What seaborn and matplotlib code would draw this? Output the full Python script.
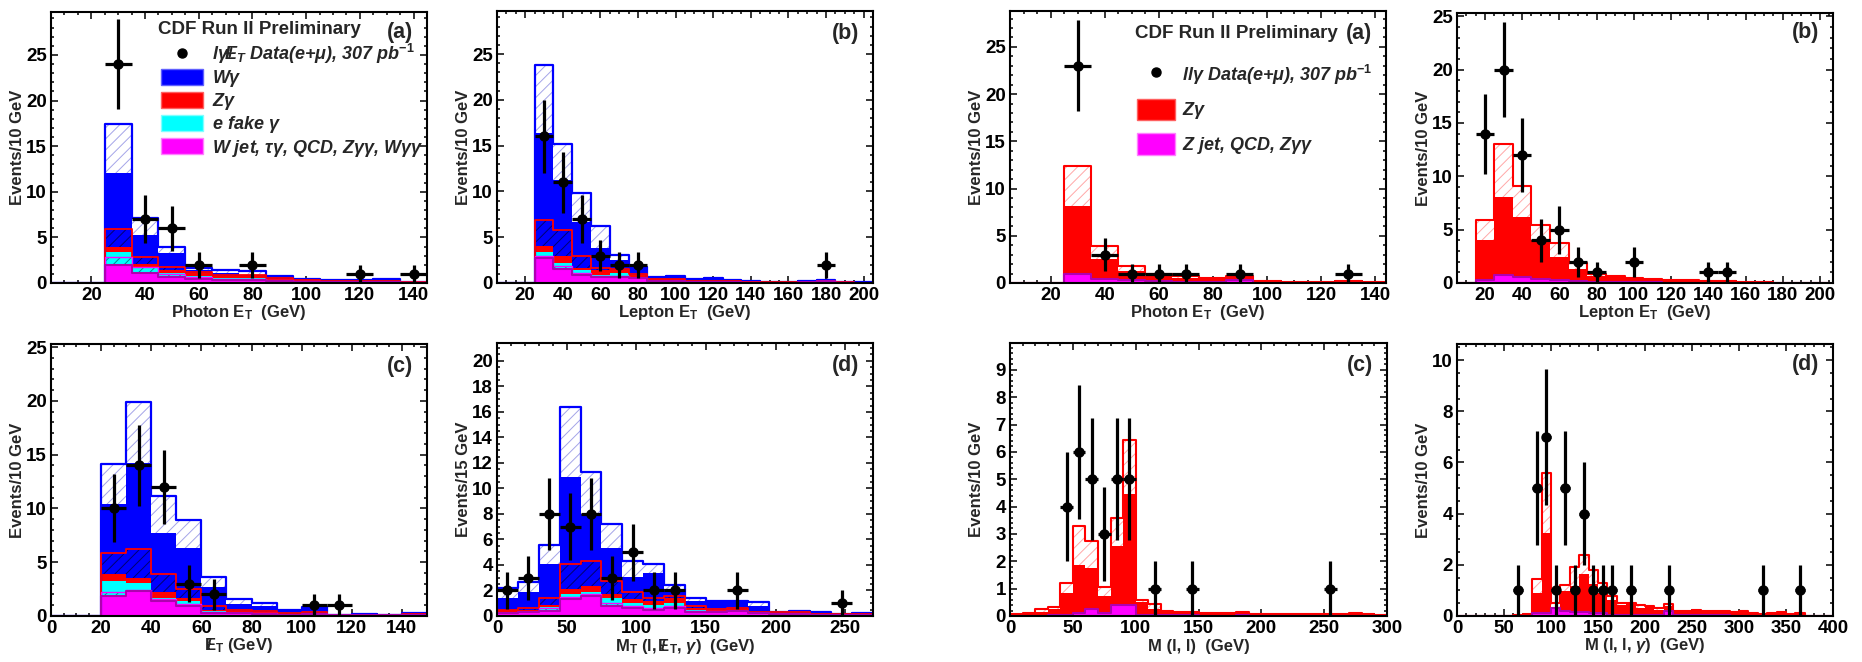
import numpy as np
import matplotlib
matplotlib.use("Agg")
import matplotlib.pyplot as plt
from matplotlib.ticker import MultipleLocator
from matplotlib.lines import Line2D
from matplotlib.patches import Patch
import seaborn as sns

# ---------------------------------------------------------------------------
# W-gamma selection (l + gamma + missing ET): stacked expectation per bin
# components: other = W jet, tau-gamma, QCD, Z-gamma-gamma, W-gamma-gamma
# *_hi arrays are the upper edges of the uncertainty bands (stacked levels)
# ---------------------------------------------------------------------------

# (a) photon ET
a_edges = list(range(5, 146, 10))
a_other = [0, 0, 2.0, 1.05, 0.7, 0.45, 0.35, 0.35, 0.25, 0.15, 0.08, 0.08, 0.1, 0.05]
a_efake = [0, 0, 1.45, 0.75, 0.4, 0.35, 0.25, 0.15, 0.1, 0.05, 0.04, 0.04, 0.05, 0.03]
a_zg = [0, 0, 0.45, 0.25, 0.3, 0.3, 0.2, 0.25, 0.1, 0.05, 0.06, 0.06, 0.07, 0.02]
a_wg = [0, 0, 8.2, 3.25, 1.9, 0.35, 0.35, 0.15, 0.25, 0.1, 0.07, 0.07, 0.13, 0.02]
a_other_hi = [0, 0, 2.9, 1.7, 1.0, 0.65, 0.45, 0.45, 0.3, 0.18, 0.1, 0.1, 0.12, 0.06]
a_zg_hi = [0, 0, 5.9, 2.85, 1.8, 1.2, 0.9, 0.85, 0.5, 0.28, 0.2, 0.2, 0.25, 0.12]
a_tot_hi = [0, 0, 17.4, 7.1, 3.95, 1.65, 1.45, 1.3, 0.8, 0.45, 0.3, 0.3, 0.45, 0.15]
a_data_x = [30, 40, 50, 60, 80, 120, 140]
a_data_n = [24, 7, 6, 2, 2, 1, 1]

# (b) lepton ET
b_edges = list(range(5, 206, 10))
b_other = [0, 0, 2.7, 1.5, 0.9, 0.65, 0.7, 0.55, 0.2, 0.2, 0.1, 0.1, 0.08, 0.05, 0.04, 0.04, 0.1, 0.2, 0.05, 0.02]
b_efake = [0, 0, 0.7, 0.7, 0.5, 0.25, 0.4, 0.15, 0.1, 0.1, 0.05, 0.05, 0.02, 0.02, 0.01, 0.01, 0.02, 0.02, 0.01, 0.01]
b_zg = [0, 0, 0.6, 0.8, 0.25, 0.55, 0.35, 0.2, 0.1, 0.1, 0.05, 0.05, 0.05, 0.03, 0.02, 0.01, 0.03, 0.03, 0.02, 0.01]
b_wg = [0, 0, 12.4, 8.3, 5.05, 2.35, 1.1, 0.7, 0.2, 0.35, 0.2, 0.3, 0.1, 0.08, 0.05, 0.02, 0.03, 0.03, 0.02, 0.01]
b_other_hi = [0, 0, 3.0, 1.9, 1.1, 0.75, 0.8, 0.6, 0.25, 0.25, 0.12, 0.12, 0.09, 0.06, 0.05, 0.05, 0.11, 0.21, 0.06, 0.03]
b_zg_hi = [0, 0, 6.85, 5.75, 2.9, 1.65, 1.55, 1.0, 0.45, 0.45, 0.22, 0.22, 0.17, 0.12, 0.08, 0.07, 0.16, 0.27, 0.09, 0.05]
b_tot_hi = [0, 0, 23.8, 15.2, 9.8, 6.2, 3.1, 1.8, 0.7, 0.8, 0.45, 0.55, 0.3, 0.2, 0.14, 0.1, 0.2, 0.3, 0.12, 0.06]
b_data_x = [30, 40, 50, 60, 70, 80, 180]
b_data_n = [16, 11, 7, 3, 2, 2, 2]

# (c) missing ET
e_edges = list(range(0, 151, 10))
e_other = [0, 0, 1.9, 2.3, 1.35, 0.95, 0.3, 0.25, 0.2, 0.1, 0.2, 0.05, 0.05, 0.05, 0.1]
e_efake = [0, 0, 1.4, 0.75, 0.35, 0.4, 0.15, 0.1, 0.1, 0.05, 0.05, 0.01, 0.02, 0.01, 0.02]
e_zg = [0, 0, 0.65, 0.5, 0.55, 0.35, 0.15, 0.15, 0.1, 0.05, 0.05, 0.02, 0.03, 0.02, 0.03]
e_wg = [0, 0, 6.5, 10.65, 5.45, 4.65, 2.1, 0.6, 0.55, 0.3, 0.45, 0.02, 0.05, 0.02, 0.1]
e_other_hi = [0, 0, 2.2, 2.4, 1.6, 1.1, 0.4, 0.3, 0.25, 0.12, 0.22, 0.06, 0.06, 0.06, 0.11]
e_zg_hi = [0, 0, 5.9, 6.2, 3.95, 2.5, 0.9, 0.6, 0.45, 0.25, 0.35, 0.09, 0.12, 0.09, 0.17]
e_tot_hi = [0, 0, 14.1, 19.95, 11.2, 8.9, 3.65, 1.55, 1.25, 0.6, 0.8, 0.12, 0.17, 0.12, 0.28]
e_data_x = [25, 35, 45, 55, 65, 105, 115]
e_data_n = [10, 14, 12, 3, 2, 1, 1]

# (d) transverse mass MT(l, MET, gamma)
f_edges = list(range(0, 271, 15))
f_other = [0.2, 0.3, 0.4, 1.3, 1.55, 0.8, 0.65, 0.5, 0.65, 0.35, 0.35, 0.4, 0.2, 0.15, 0.15, 0.1, 0.05, 0.1]
f_efake = [0.1, 0.05, 0.3, 0.4, 0.3, 0.65, 0.4, 0.4, 0.4, 0.15, 0.07, 0.05, 0.05, 0.03, 0.03, 0.02, 0.02, 0.02]
f_zg = [0.15, 0.1, 0.2, 0.45, 0.5, 0.25, 0.25, 0.3, 0.4, 0.15, 0.08, 0.1, 0.05, 0.07, 0.07, 0.03, 0.03, 0.03]
f_wg = [1.0, 1.4, 3.15, 8.75, 5.65, 3.6, 1.75, 2.2, 0.65, 0.55, 0.6, 0.55, 0.5, 0.05, 0.1, 0.1, 0.05, 0.05]
f_other_hi = [0.25, 0.35, 0.6, 1.5, 1.7, 1.0, 0.8, 0.6, 0.75, 0.4, 0.38, 0.42, 0.22, 0.17, 0.17, 0.11, 0.06, 0.11]
f_zg_hi = [0.5, 0.6, 1.45, 4.05, 4.3, 2.75, 1.85, 1.45, 1.55, 0.75, 0.55, 0.6, 0.35, 0.28, 0.3, 0.18, 0.12, 0.17]
f_tot_hi = [2.2, 2.7, 5.6, 16.35, 11.25, 7.2, 4.3, 4.05, 2.4, 1.45, 1.2, 1.15, 1.1, 0.35, 0.4, 0.3, 0.18, 0.25]
f_data_x = [7.5, 22.5, 37.5, 52.5, 67.5, 82.5, 97.5, 112.5, 127.5, 172.5, 247.5]
f_data_n = [2, 3, 8, 7, 8, 3, 5, 2, 2, 2, 1]

# ---------------------------------------------------------------------------
# Z-gamma selection (l + l + gamma); other = Z jet, QCD, Z-gamma-gamma
# ---------------------------------------------------------------------------

# (a) photon ET
c_edges = list(range(5, 146, 10))
c_other = [0, 0, 0.9, 0.4, 0.3, 0.2, 0.15, 0.1, 0.3, 0.05, 0.03, 0.03, 0.05, 0.02]
c_zg = [0, 0, 7.3, 2.15, 0.95, 0.5, 0.35, 0.32, 0.35, 0.1, 0.07, 0.07, 0.1, 0.04]
c_tot_hi = [0, 0, 12.4, 3.9, 1.85, 0.9, 0.7, 0.5, 0.7, 0.18, 0.12, 0.12, 0.18, 0.08]
c_data_x = [30, 40, 50, 60, 70, 90, 130]
c_data_n = [23, 3, 1, 1, 1, 1, 1]

# (b) lepton ET
d_edges = list(range(5, 206, 10))
d_other = [0, 0.3, 0.75, 0.55, 0.35, 0.25, 0.15, 0.1, 0.08, 0.06, 0.05, 0.04, 0.03, 0.03, 0.02, 0.01, 0.01, 0, 0, 0]
d_zg = [0, 3.7, 7.3, 5.6, 3.7, 2.2, 1.15, 0.6, 0.47, 0.39, 0.3, 0.26, 0.22, 0.17, 0.13, 0.04, 0.03, 0.03, 0.02, 0.02]
d_tot_hi = [0, 5.95, 13.0, 9.1, 5.4, 3.75, 1.9, 0.8, 0.65, 0.5, 0.38, 0.32, 0.27, 0.22, 0.17, 0.07, 0.05, 0.04, 0.03, 0.03]
d_data_x = [20, 30, 40, 50, 60, 70, 80, 100, 140, 150]
d_data_n = [14, 20, 12, 4, 5, 2, 1, 2, 1, 1]

# (c) dilepton mass
g_edges = list(range(0, 301, 10))
g_other = [0, 0, 0, 0.02, 0.05, 0.12, 0.25, 0.12, 0.42, 0.42, 0.05, 0.03, 0.02, 0.02, 0.02,
           0.01, 0.01, 0.01, 0.02, 0.01, 0, 0, 0, 0, 0, 0, 0, 0, 0, 0]
g_zg = [0.05, 0.1, 0.15, 0.23, 0.78, 1.73, 1.52, 0.61, 2.14, 4.03, 0.47, 0.22, 0.16, 0.1, 0.1,
        0.09, 0.09, 0.07, 0.1, 0.04, 0.05, 0.05, 0.05, 0.05, 0.05, 0.05, 0.05, 0.08, 0.05, 0.03]
g_tot_hi = [0.07, 0.12, 0.25, 0.33, 1.22, 3.3, 2.75, 1.06, 3.6, 6.44, 0.6, 0.45, 0.18, 0.14, 0.14,
            0.12, 0.12, 0.1, 0.14, 0.06, 0.06, 0.06, 0.06, 0.06, 0.06, 0.06, 0.06, 0.1, 0.06, 0.04]
g_data_x = [45, 55, 65, 75, 85, 95, 115, 145, 255]
g_data_n = [4, 6, 5, 3, 5, 5, 1, 1, 1]

# (d) l-l-gamma mass
h_edges = list(range(0, 401, 10))
h_other = [0, 0, 0, 0, 0, 0, 0, 0, 0.1, 0.1, 0.3, 0.2, 0.15, 0.15, 0.1, 0.1, 0.05, 0.05, 0.05, 0.03,
           0.03, 0.03, 0.2, 0.03, 0.02, 0.02, 0.02, 0.02, 0.02, 0.01, 0.01, 0.01, 0, 0.01, 0.01, 0, 0.01, 0, 0, 0]
h_zg = [0, 0, 0, 0, 0, 0, 0.02, 0.05, 0.8, 3.16, 0.05, 0.78, 1.02, 1.51, 1.14, 0.8, 0.56, 0.38, 0.4, 0.3,
        0.32, 0.22, 0.2, 0.12, 0.13, 0.18, 0.13, 0.13, 0.13, 0.11, 0.14, 0.09, 0.05, 0.09, 0.11, 0.05, 0.09, 0, 0, 0]
h_tot_hi = [0, 0, 0, 0, 0, 0, 0.03, 0.06, 1.43, 5.6, 0.52, 1.21, 1.92, 2.39, 1.79, 1.3, 0.78, 0.52, 0.52, 0.43,
            0.4, 0.3, 0.48, 0.2, 0.2, 0.22, 0.18, 0.18, 0.18, 0.15, 0.18, 0.12, 0.07, 0.12, 0.14, 0.07, 0.12, 0, 0, 0]
h_data_x = [65, 85, 95, 105, 115, 125, 135, 145, 155, 165, 185, 225, 325, 365]
h_data_n = [1, 5, 7, 1, 5, 1, 4, 1, 1, 1, 1, 1, 1, 1]

# ---------------------------------------------------------------------------
# style
# ---------------------------------------------------------------------------
sns.set_theme(style="ticks")
plt.rcParams.update({
    "font.family": ["Liberation Sans", "DejaVu Sans"],
    "font.weight": "bold",
    "axes.labelweight": "bold",
    "mathtext.fontset": "custom",
    "mathtext.rm": "Liberation Sans:bold",
    "mathtext.it": "Liberation Sans:italic:bold",
    "mathtext.bf": "Liberation Sans:bold",
    "mathtext.sf": "Liberation Sans:bold",
    "hatch.linewidth": 0.7,
    "axes.edgecolor": "black",
    "axes.linewidth": 1.5,
    "xtick.color": "black",
    "ytick.color": "black",
})

BLUE = "#0000ff"
RED = "#ff0000"
CYAN = "#00ffff"
MAGENTA = "#ff00ff"
BLUE_HATCH = "#a4a4e8"
RED_HATCH = "#ffa8a8"
NAVY_HATCH = "#000070"
TEAL_HATCH = "#008a8a"

FS_TICK = 13.5
FS_LABEL = 12
FS_LEG = 13
FS_TITLE = 13.5


def _centers(edges):
    edges = np.asarray(edges, float)
    return 0.5 * (edges[:-1] + edges[1:])


def solid(ax, edges, heights, color):
    sns.histplot(x=_centers(edges), weights=np.asarray(heights, float), bins=list(edges),
                 element="step", fill=True, color=color, alpha=1, edgecolor=color,
                 linewidth=0, stat="count", ax=ax)


def band(ax, edges, heights, face, hatch_color):
    sns.histplot(x=_centers(edges), weights=np.asarray(heights, float), bins=list(edges),
                 element="step", fill=True, color=face, alpha=1, edgecolor=hatch_color,
                 linewidth=0, hatch="///", stat="count", ax=ax)


def outline(ax, edges, heights, color, lw):
    sns.histplot(x=_centers(edges), weights=np.asarray(heights, float), bins=list(edges),
                 element="step", fill=False, color=color, linewidth=lw, stat="count", ax=ax)


def data_points(ax, edges, x, n):
    half = 0.5 * (edges[1] - edges[0])
    n = np.asarray(n, float)
    ax.errorbar(x, n, xerr=half, yerr=np.sqrt(n), fmt="o", color="black",
                ms=6.5, elinewidth=2.3, capsize=0, zorder=10)


def wg_panel(ax, edges, other, efake, zg, wg, other_hi, zg_hi, tot_hi, dx, dn):
    lvl_other = np.asarray(other, float)
    lvl_efake = lvl_other + np.asarray(efake)
    lvl_zg = lvl_efake + np.asarray(zg)
    lvl_wg = lvl_zg + np.asarray(wg)
    band(ax, edges, tot_hi, "white", BLUE_HATCH)
    outline(ax, edges, tot_hi, BLUE, 1.6)
    solid(ax, edges, lvl_wg, BLUE)
    band(ax, edges, zg_hi, "none", NAVY_HATCH)
    outline(ax, edges, zg_hi, RED, 1.3)
    solid(ax, edges, lvl_zg, RED)
    solid(ax, edges, lvl_efake, CYAN)
    band(ax, edges, other_hi, "none", TEAL_HATCH)
    outline(ax, edges, other_hi, MAGENTA, 1.0)
    solid(ax, edges, lvl_other, MAGENTA)
    outline(ax, edges, lvl_other, "#b000b0", 1.5)
    data_points(ax, edges, dx, dn)


def zg_panel(ax, edges, other, zg, tot_hi, dx, dn):
    lvl_other = np.asarray(other, float)
    lvl_zg = lvl_other + np.asarray(zg)
    band(ax, edges, tot_hi, "white", RED_HATCH)
    outline(ax, edges, tot_hi, RED, 1.5)
    solid(ax, edges, lvl_zg, RED)
    solid(ax, edges, lvl_other, MAGENTA)
    outline(ax, edges, lvl_other, "#b000b0", 1.5)
    data_points(ax, edges, dx, dn)


def style(ax, xlim, ylim, xmaj, xmin, ymaj, ymin, xlabel, ylabel, tag, tag_y=0.922):
    ax.set_xlim(*xlim)
    ax.set_ylim(*ylim)
    ax.xaxis.set_major_locator(MultipleLocator(xmaj))
    ax.xaxis.set_minor_locator(MultipleLocator(xmin))
    ax.yaxis.set_major_locator(MultipleLocator(ymaj))
    ax.yaxis.set_minor_locator(MultipleLocator(ymin))
    ax.tick_params(which="both", direction="in", top=True, right=True,
                   labelsize=FS_TICK, width=1.1, pad=3, colors="black")
    ax.tick_params(which="major", length=5)
    ax.tick_params(which="minor", length=2.5)
    ax.grid(False)
    for sp in ax.spines.values():
        sp.set_visible(True)
        sp.set_linewidth(1.5)
        sp.set_color("black")
        sp.set_zorder(20)
    ax.set_xlabel(xlabel, fontsize=FS_LABEL, fontweight="bold")
    ax.set_ylabel(ylabel, fontsize=FS_LABEL, fontweight="bold")
    ax.xaxis.set_label_coords(0.5, -0.11)
    ax.xaxis.label.set_verticalalignment("center")
    ax.yaxis.set_label_coords(-0.088, 0.5)
    ax.yaxis.label.set_verticalalignment("center")
    ax.text(0.928, tag_y, tag, transform=ax.transAxes, ha="center", va="center",
            fontsize=15.5, fontweight="bold", zorder=30)
    for t in ax.get_xticklabels() + ax.get_yticklabels():
        t.set_fontweight("bold")


# ---------------------------------------------------------------------------
# figure layout
# ---------------------------------------------------------------------------
W, H = 1862, 662
fig = plt.figure(figsize=(W / 100, H / 100), dpi=100)


def panel(left, top, right, bottom):
    return fig.add_axes([left / W, 1 - bottom / H, (right - left) / W, (bottom - top) / H])


ax_a = panel(51, 12, 427, 283)
ax_b = panel(497, 11, 873, 283)
ax_c = panel(1010, 11, 1386, 283)
ax_d = panel(1457, 13, 1833, 283)
ax_e = panel(51, 344, 427, 616)
ax_f = panel(497, 343, 873, 616)
ax_g = panel(1010, 343, 1387, 616)
ax_h = panel(1457, 344, 1833, 616)

MET = r"$/\!\!\!\mathrm{E}_\mathrm{T}$"

wg_panel(ax_a, a_edges, a_other, a_efake, a_zg, a_wg, a_other_hi, a_zg_hi, a_tot_hi, a_data_x, a_data_n)
style(ax_a, (5, 145), (0, 29.7), 20, 5, 5, 1, r"Photon E$_\mathrm{T}$  (GeV)", "Events/10 GeV", "(a)", 0.926)

wg_panel(ax_b, b_edges, b_other, b_efake, b_zg, b_wg, b_other_hi, b_zg_hi, b_tot_hi, b_data_x, b_data_n)
style(ax_b, (5, 205), (0, 29.7), 20, 5, 5, 1, r"Lepton E$_\mathrm{T}$  (GeV)", "Events/10 GeV", "(b)", 0.919)

zg_panel(ax_c, c_edges, c_other, c_zg, c_tot_hi, c_data_x, c_data_n)
style(ax_c, (5, 144), (0, 28.8), 20, 5, 5, 1, r"Photon E$_\mathrm{T}$  (GeV)", "Events/10 GeV", "(a)", 0.919)

zg_panel(ax_d, d_edges, d_other, d_zg, d_tot_hi, d_data_x, d_data_n)
style(ax_d, (5, 207), (0, 25.3), 20, 5, 5, 1, r"Lepton E$_\mathrm{T}$  (GeV)", "Events/10 GeV", "(b)", 0.926)

wg_panel(ax_e, e_edges, e_other, e_efake, e_zg, e_wg, e_other_hi, e_zg_hi, e_tot_hi, e_data_x, e_data_n)
style(ax_e, (0, 150), (0, 25.3), 20, 5, 5, 1, MET + " (GeV)", "Events/10 GeV", "(c)", 0.919)

wg_panel(ax_f, f_edges, f_other, f_efake, f_zg, f_wg, f_other_hi, f_zg_hi, f_tot_hi, f_data_x, f_data_n)
style(ax_f, (0, 270), (0, 21.4), 50, 10, 2, 0.5,
      r"M$_\mathrm{T}$ (l, " + MET + r", $\gamma$)  (GeV)", "Events/15 GeV", "(d)", 0.919)

zg_panel(ax_g, g_edges, g_other, g_zg, g_tot_hi, g_data_x, g_data_n)
style(ax_g, (0, 300), (0, 9.98), 50, 10, 1, 0.2, "M (l, l)  (GeV)", "Events/10 GeV", "(c)", 0.919)

zg_panel(ax_h, h_edges, h_other, h_zg, h_tot_hi, h_data_x, h_data_n)
style(ax_h, (0, 400), (0, 10.63), 50, 10, 2, 0.5, r"M (l, l, $\gamma$)  (GeV)", "Events/10 GeV", "(d)", 0.926)

# ---------------------------------------------------------------------------
# legends
# ---------------------------------------------------------------------------
leg_font = dict(family="Liberation Sans", style="italic", weight="bold", size=FS_LEG)
TITLE = "CDF Run II Preliminary"

data_handle = Line2D([], [], marker="o", ls="none", color="black", ms=6.5)
wg_handles = [data_handle, Patch(facecolor=BLUE, edgecolor="#6060ff"), Patch(facecolor=RED, edgecolor="#ff6060"),
              Patch(facecolor=CYAN, edgecolor="#80ffff"), Patch(facecolor=MAGENTA, edgecolor="#ff80ff")]
wg_labels = [r"$l\gamma/\!\!\!E_T$ Data(e+$\mu$), 307 pb$^{-1}$", r"W$\gamma$", r"Z$\gamma$",
             r"e fake $\gamma$", r"W jet, $\tau\gamma$, QCD, Z$\gamma\gamma$, W$\gamma\gamma$"]
ax_a.text(0.285, 0.937, TITLE, transform=ax_a.transAxes, ha="left", va="center",
          fontsize=FS_TITLE, fontweight="bold", zorder=30)
leg = ax_a.legend(wg_handles, wg_labels, loc="upper left", bbox_to_anchor=(0.293, 0.89),
                  frameon=False, prop=leg_font, borderpad=0, borderaxespad=0,
                  handlelength=2.3, handleheight=1.0, handletextpad=0.5, labelspacing=0.12)
leg.set_zorder(30)

zg_handles = [data_handle, Patch(facecolor=RED, edgecolor="#ff6060"), Patch(facecolor=MAGENTA, edgecolor="#ff80ff")]
zg_labels = [r"$ll\gamma$ Data(e+$\mu$), 307 pb$^{-1}$", r"Z$\gamma$", r"Z jet, QCD, Z$\gamma\gamma$"]
ax_c.text(0.332, 0.919, TITLE, transform=ax_c.transAxes, ha="left", va="center",
          fontsize=FS_TITLE, fontweight="bold", zorder=30)
leg2 = ax_c.legend(zg_handles, zg_labels, loc="upper left", bbox_to_anchor=(0.338, 0.81),
                   frameon=False, prop=leg_font, borderpad=0, borderaxespad=0,
                   handlelength=2.1, handleheight=1.45, handletextpad=0.4, labelspacing=0.66)
leg2.set_zorder(30)

fig.savefig("out.png", dpi=100)
